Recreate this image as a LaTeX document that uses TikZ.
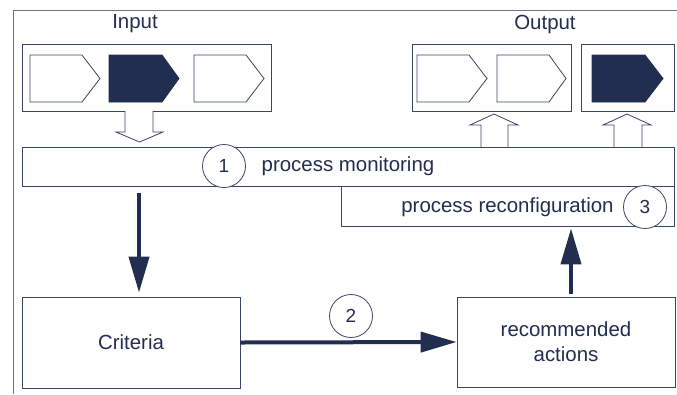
\documentclass[tikz,border=0pt]{standalone}
\usepackage{fontspec}
\setmainfont{Liberation Sans}
\usetikzlibrary{arrows.meta,calc}
\definecolor{navy}{HTML}{222E50}
\definecolor{edge}{HTML}{3A4464}
\definecolor{frame}{HTML}{6B7389}
\tikzset{
  box/.style={draw=edge,line width=0.8bp,fill=white,inner sep=0pt,minimum width=#1},
  txt/.style={text=navy,font=\fontsize{20.5}{23}\selectfont,inner sep=0pt,align=center},
  num/.style={circle,draw=edge,line width=0.8bp,fill=white,minimum size=43bp,inner sep=0pt,text=navy,font=\fontsize{19}{22}\selectfont},
  chev/.style={draw=edge,line width=0.8bp,fill=white},
  chevfill/.style={draw=navy,line width=0.8bp,fill=navy},
  hollow/.style={draw=edge,line width=0.8bp,fill=white},
  bigarrow/.style={draw=navy,line width=4bp,-{Triangle[length=36bp,width=20bp]}},
}
\begin{document}
\begin{tikzpicture}[x=1bp,y=-1bp]
\useasboundingbox (0,0) rectangle (677,394);
% outer frame
\draw[frame,line width=0.8bp] (677,10) -- (13,10) -- (13,394);

% labels
\node[txt] (inlab) at (135,24) {Input};
\node[txt] (outlab) at (545,24) {Output};

% input/output boxes
\node[box=249bp,minimum height=67bp] (inbox) at (146.5,77.5) {};
\node[box=159bp,minimum height=67bp] (outbox1) at (491.5,77.5) {};
\node[box=93bp,minimum height=67bp] (outbox2) at (627.5,77.5) {};

% chevrons
\draw[chev] (30,55) -- (82,55) -- (100,78.5) -- (82,102) -- (30,102) -- cycle;
\draw[chevfill] (109,55) -- (162,55) -- (179,78.5) -- (162,102) -- (109,102) -- cycle;
\draw[chev] (194,55) -- (246,55) -- (264,78.5) -- (246,102) -- (194,102) -- cycle;
\draw[chev] (417,55) -- (469,55) -- (487,78.5) -- (469,102) -- (417,102) -- cycle;
\draw[chev] (497,55) -- (549,55) -- (566,78.5) -- (549,102) -- (497,102) -- cycle;
\draw[chevfill] (592,55) -- (645,55) -- (663,78.5) -- (645,102) -- (592,102) -- cycle;

% hollow arrows
\draw[hollow] (125,111) -- (125,132) -- (116,132) -- (139.5,142) -- (163,132) -- (153,132) -- (153,111);
\draw[hollow] (481,147) -- (481,125) -- (470,125) -- (494,114) -- (518,125) -- (508,125) -- (508,147);
\draw[hollow] (614,147) -- (614,125) -- (603,125) -- (627,114) -- (651,125) -- (642,125) -- (642,147);

% process boxes
\node[box=333bp,minimum height=40bp] (pr) at (507.5,206) {};
\node[box=652bp,minimum height=39bp] (pm) at (348,166.5) {};
\node[txt] (pmt) at (348,166.5) {process monitoring};
\node[txt] (prt) at (507.5,207) {process reconfiguration};
\node[num] (c1) at (224,166) {1};
\node[num] (c3) at (645,207) {3};

% bottom boxes
\node[box=218bp,minimum height=91bp,txt] (crit) at (131,342.5) {Criteria};
\node[box=218bp,minimum height=90bp,txt] (rec) at (566,342) {recommended\\[2bp]actions};
\node[num] (c2) at (351,316) {2};

% arrows
\draw[bigarrow] ([xshift=8bp,yshift=-7bp]pm.south -| crit.north) -- ([xshift=8bp,yshift=4bp]crit.north);
\draw[bigarrow] (crit.east) -- (rec.west);
\draw[bigarrow] ([xshift=5bp,yshift=3bp]rec.north) -- ([xshift=5bp,yshift=-2bp]rec.north |- pr.south);
\end{tikzpicture}
\end{document}
